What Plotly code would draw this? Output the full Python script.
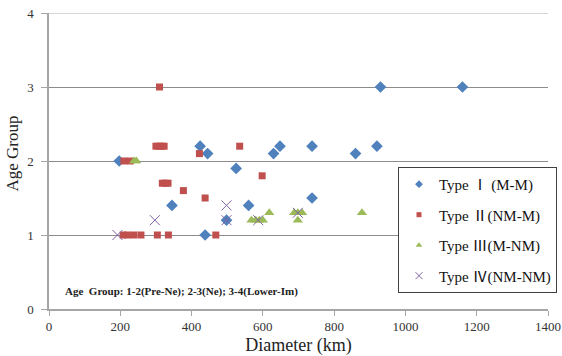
import plotly.graph_objects as go

# ---- data (Diameter km, Age Group) ----
type1_x = [197, 424, 445, 525, 630, 648, 738, 860, 920, 345, 560, 738, 498, 438, 930, 1160]
type1_y = [2.0, 2.2, 2.1, 1.9, 2.1, 2.2, 2.2, 2.1, 2.2, 1.4, 1.4, 1.5, 1.2, 1.0, 3.0, 3.0]

type2_x = [210, 228, 300, 308, 316, 323, 310, 422, 535, 598, 318, 326, 334, 377, 438, 208, 220, 238, 258, 304, 335, 468]
type2_y = [2.0, 2.0, 2.2, 2.2, 2.2, 2.2, 3.0, 2.1, 2.2, 1.8, 1.7, 1.7, 1.7, 1.6, 1.5, 1.0, 1.0, 1.0, 1.0, 1.0, 1.0, 1.0]

type3_x = [239, 245, 568, 580, 590, 600, 618, 688, 698, 710, 698, 878]
type3_y = [2.0, 2.0, 1.2, 1.2, 1.2, 1.2, 1.3, 1.3, 1.3, 1.3, 1.2, 1.3]

type4_x = [192, 297, 498, 498, 587, 698]
type4_y = [1.0, 1.2, 1.4, 1.2, 1.2, 1.3]

names = ["Type Ⅰ (M-M)", "Type Ⅱ(NM-M)", "Type Ⅲ(M-NM)", "Type Ⅳ(NM-NM)"]
x_ticks = [0, 200, 400, 600, 800, 1000, 1200, 1400]
y_ticks = [0, 1, 2, 3, 4]
note = "Age  Group: 1-2(Pre-Ne); 2-3(Ne); 3-4(Lower-Im)"

SERIF = "Liberation Serif, Noto Sans CJK SC"
colors = ["#4F81BD", "#C0504D", "#9BBB59", "#8064A2"]
symbols = ["diamond", "square", "triangle-up", "x-thin-open"]
data_sizes = [9, 7, 9, 10]
legend_sizes = [6, 5, 6, 7]
xs = [type1_x, type2_x, type3_x, type4_x]
ys = [type1_y, type2_y, type3_y, type4_y]

fig = go.Figure()
for i in range(4):
    line = dict(width=1, color="#9F8CC0") if symbols[i].startswith("x") else dict(width=0)
    fig.add_trace(go.Scatter(x=xs[i], y=ys[i], mode="markers", name=names[i], showlegend=False,
                             marker=dict(symbol=symbols[i], size=data_sizes[i], color=colors[i], line=line)))
for i in range(4):
    line = dict(width=1, color="#9F8CC0") if symbols[i].startswith("x") else dict(width=0)
    fig.add_trace(go.Scatter(x=[None], y=[None], mode="markers", name=names[i], legendgroup=str(i),
                             marker=dict(symbol=symbols[i], size=legend_sizes[i], color=colors[i], line=line)))

fig.add_shape(type="line", xref="x", yref="y", x0=0, x1=1400, y0=4, y1=4,
              line=dict(color="#c8c8c8", width=1.5))

fig.add_annotation(text=note, xref="paper", yref="paper", x=0.0276, y=0.06,
                   xanchor="left", yanchor="middle", showarrow=False,
                   font=dict(family=SERIF, size=11, color="#222222", weight="bold"))

fig.add_annotation(text="Age Group", xref="paper", yref="paper", x=-0.0709, y=0.525,
                   xanchor="center", yanchor="middle", textangle=-90, showarrow=False,
                   font=dict(family=SERIF, size=17, color="#222222"))

# paper spans x 49..557 px; the x axis domain stops at 548 px so the legend can sit at the paper edge
fig.update_layout(
    width=562, height=356,
    margin=dict(l=49, r=5, t=13, b=47),
    paper_bgcolor="white", plot_bgcolor="white",
    font=dict(family=SERIF, size=13, color="#333333"),
    showlegend=True,
    legend=dict(x=1.0, xanchor="right", y=0.48, yanchor="top",
                bgcolor="white", bordercolor="#404040", borderwidth=1,
                font=dict(family=SERIF, size=15, color="#111111"),
                tracegroupgap=8, itemwidth=30),
    xaxis=dict(domain=[0, 0.9823], range=[0, 1400], tickvals=x_ticks, showgrid=False, zeroline=False,
               automargin=False, showline=True, linecolor="#a6a6a6", linewidth=1.5, ticklabeloverflow="allow",
               ticks="outside", ticklen=5, tickcolor="#a6a6a6",
               title=dict(text="Diameter (km)", font=dict(family=SERIF, size=18, color="#222222"), standoff=5)),
    yaxis=dict(range=[0, 4], tickvals=y_ticks, showgrid=True, gridcolor="#8c8c8c", gridwidth=1,
               zeroline=False, showline=True, linecolor="#a6a6a6", linewidth=1.5, automargin=False,
               ticklabeloverflow="allow", ticklabelstandoff=5,
               ticks="outside", ticklen=6, tickcolor="#a6a6a6"),
)

# remove the default 8px page margin so the 562x356 figure fills the window
fig.write_html("out.html", config={"displayModeBar": False},
               post_script="document.body.style.margin='0px';")
